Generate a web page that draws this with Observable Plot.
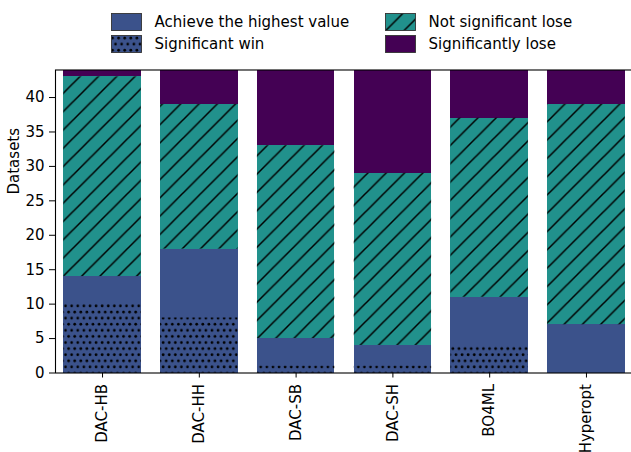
<!DOCTYPE html>
<html><head><meta charset="utf-8">
<script src="https://cdn.jsdelivr.net/npm/d3@7"></script>
<script src="https://cdn.jsdelivr.net/npm/@observablehq/plot@0.6"></script>
<style>
html,body{margin:0;padding:0;overflow:hidden;background:#fff;font-family:"DejaVu Sans",sans-serif;}
#legend{position:relative;height:65px;width:631px;font-size:15px;color:#000;}
.item{position:absolute;display:flex;align-items:center;height:18px;white-space:nowrap;}
.item svg{display:block;margin-right:12.5px;}
</style></head><body>
<svg width="0" height="0" style="position:absolute">
<defs>
<pattern id="hatch" patternUnits="userSpaceOnUse" width="18.3" height="18.3"><path d="M0,18.3 L18.3,0 M-4.575,4.575 L4.575,-4.575 M13.725,22.875 L22.875,13.725" stroke="#000" stroke-width="1.5" fill="none"/></pattern>
<pattern id="dots" patternUnits="userSpaceOnUse" width="6.1" height="12.2"><circle cx="1.5" cy="3" r="1.35" fill="#000"/><circle cx="4.55" cy="9.1" r="1.35" fill="#000"/></pattern>
</defs></svg>
<div id="legend"></div>
<div id="chart"></div>
<script>
const categories = ["DAC-HB", "DAC-HH", "DAC-SB", "DAC-SH", "BO4ML", "Hyperopt"];
const highest    = [14, 18, 5, 4, 11, 7];
const sigWin     = [10, 8, 1, 1, 4, 0];
const notSigLose = [29, 21, 28, 25, 26, 32];
const sigLose    = [1, 5, 11, 15, 7, 5];
const yTicks = [0, 5, 10, 15, 20, 25, 30, 35, 40];
const yMax = 44;
const seriesNames = ["Achieve the highest value", "Significant win", "Not significant lose", "Significantly lose"];
const seriesColors = ["#3b528b", "#3b528b", "#21918c", "#440154"];
const seriesPatterns = [null, "url(#dots)", "url(#hatch)", null];

// stacked base rows
const baseRows = categories.flatMap((c, i) => [
  {cat: c, series: seriesNames[0], value: highest[i]},
  {cat: c, series: seriesNames[2], value: notSigLose[i]},
  {cat: c, series: seriesNames[3], value: sigLose[i]}
]);
const hatchRows = categories.map((c, i) => ({cat: c, lo: highest[i], hi: highest[i] + notSigLose[i]}));
const winRows = categories.map((c, i) => ({cat: c, value: sigWin[i]}));

// legend
const legend = document.getElementById("legend");
const colLeft = [111, 385], rowTop = [13, 35];
seriesNames.forEach((name, i) => {
  const col = i < 2 ? 0 : 1, row = i % 2;
  const item = document.createElement("div");
  item.className = "item";
  item.style.left = colLeft[col] + "px";
  item.style.top = rowTop[row] + "px";
  const pat = seriesPatterns[i] ? `<rect x="0.5" y="0.5" width="30" height="17" fill="${seriesPatterns[i]}"/>` : "";
  item.innerHTML = `<svg width="31" height="18"><rect x="0.5" y="0.5" width="30" height="17" fill="${seriesColors[i]}"/>${pat}<rect x="0.5" y="0.5" width="30" height="17" fill="none" stroke="#333" stroke-width="0.9"/></svg><span>${name}</span>`;
  legend.appendChild(item);
});

const chart = Plot.plot({
  width: 633,
  height: 387,
  marginLeft: 55,
  marginRight: 0,
  marginTop: 4.5,
  marginBottom: 79.5,
  style: {fontFamily: "DejaVu Sans", fontSize: "15px", color: "#000", background: "#fff", maxWidth: "none", overflow: "visible"},
  x: {domain: categories, paddingInner: 0.2, paddingOuter: 0.086, round: false, label: null},
  y: {domain: [0, yMax], label: null},
  color: {domain: [seriesNames[0], seriesNames[2], seriesNames[3]], range: [seriesColors[0], seriesColors[2], seriesColors[3]]},
  marks: [
    Plot.barY(baseRows, Plot.stackY({x: "cat", y: "value", fill: "series", shapeRendering: "crispEdges"})),
    Plot.barY(hatchRows, {x: "cat", y1: "lo", y2: "hi", fill: "url(#hatch)"}),
    Plot.barY(winRows, {x: "cat", y: "value", fill: "url(#dots)"}),
    Plot.frame({stroke: "#000", strokeWidth: 1.1}),
    Plot.axisY({ticks: yTicks, tickSize: 6, tickPadding: 5, label: null}),
    Plot.axisX({tickSize: 5, tickPadding: 6, tickRotate: -90, label: null}),
    Plot.text(["Datasets"], {frameAnchor: "left", rotate: -90, dx: -41, dy: -27, fontSize: 15})
  ]
});
document.getElementById("chart").appendChild(chart);
</script>
</body></html>
